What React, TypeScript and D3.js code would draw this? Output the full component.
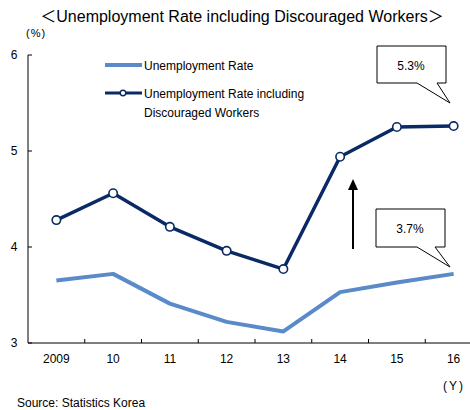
import React from "react";
import * as d3 from "d3";

const years = ["2009", "10", "11", "12", "13", "14", "15", "16"];
const unemploymentRate = [3.65, 3.72, 3.41, 3.22, 3.12, 3.53, 3.63, 3.72];
const inclDiscouraged = [4.28, 4.56, 4.21, 3.96, 3.77, 4.94, 5.25, 5.26];
const yTicks = [3, 4, 5, 6];

const FONT = "'Liberation Sans', Arial, sans-serif";
const CJK = "'Noto Sans CJK JP', sans-serif";

export default function App() {
  const W = 470, H = 410;
  const x = d3.scaleBand<string>().domain(years).range([28, 482]);
  const y = d3.scaleLinear().domain([3, 6]).range([343, 55]);
  const cx = (d: string) => (x(d) as number) + x.bandwidth() / 2;
  const line = d3.line<number>().x((_, i) => cx(years[i])).y((v) => y(v));

  return (
    <svg width={W} height={H} style={{ position: "absolute", left: 0, top: 0, background: "#fff" }} fontFamily={FONT}>
      <text x={242} y={22} textAnchor="middle" fontSize={16} fill="#000">
        <tspan fontFamily={CJK}>＜</tspan>
        <tspan>Unemployment Rate  including Discouraged Workers</tspan>
        <tspan fontFamily={CJK}>＞</tspan>
      </text>
      <text x={26} y={37} fontSize={11} fill="#000" letterSpacing={1}>(%)</text>
      {/* axes */}
      <line x1={28} x2={28} y1={55} y2={343} stroke="#000" strokeWidth={1} />
      <line x1={28} x2={470} y1={343} y2={343} stroke="#000" strokeWidth={1} />
      {yTicks.map((t) => (
        <g key={t}>
          <line x1={28} x2={32} y1={y(t)} y2={y(t)} stroke="#000" />
          <text x={14} y={y(t) + 4} textAnchor="middle" fontSize={12}>{t}</text>
        </g>
      ))}
      {years.map((yr, i) => (
        <g key={yr}>
          {i > 0 && <line x1={x(yr)} x2={x(yr)} y1={343} y2={339} stroke="#000" />}
          <text x={cx(yr)} y={363} textAnchor="middle" fontSize={12}>{yr}</text>
        </g>
      ))}
      {/* lines */}
      <path d={line(unemploymentRate) || ""} fill="none" stroke="#5b8ac9" strokeWidth={4} strokeLinejoin="round" />
      <path d={line(inclDiscouraged) || ""} fill="none" stroke="#0a2a66" strokeWidth={3.5} strokeLinejoin="round" />
      {inclDiscouraged.map((v, i) => (
        <circle key={i} cx={cx(years[i])} cy={y(v)} r={4.2} fill="#fff" stroke="#0a2a66" strokeWidth={1.6} />
      ))}
      {/* legend */}
      <line x1={105} x2={142} y1={65} y2={65} stroke="#5b8ac9" strokeWidth={4} />
      <text x={144} y={70} fontSize={12}>Unemployment Rate</text>
      <line x1={105} x2={142} y1={93} y2={93} stroke="#0a2a66" strokeWidth={3} />
      <circle cx={123} cy={93} r={2.8} fill="#fff" stroke="#0a2a66" strokeWidth={1.4} />
      <text x={144} y={98} fontSize={12}>Unemployment Rate including</text>
      <text x={144} y={117} fontSize={12}>Discouraged Workers</text>
      {/* callout 5.3 */}
      <path d="M377,46 H446 V83 H437 L450,103 L417,83 H377 Z" fill="#fff" stroke="#000" strokeWidth={1} />
      <text x={411} y={70} textAnchor="middle" fontSize={12}>5.3%</text>
      {/* callout 3.7 */}
      <path d="M376,209 H445 V247 H435 L450,267 L417,247 H376 Z" fill="#fff" stroke="#000" strokeWidth={1} />
      <text x={410} y={233} textAnchor="middle" fontSize={12}>3.7%</text>
      {/* arrow */}
      <line x1={353} x2={353} y1={249} y2={188} stroke="#000" strokeWidth={2} />
      <path d="M353,179 L348,190 L358,190 Z" fill="#000" />
      <text x={454} y={390} textAnchor="middle" fontSize={12} letterSpacing={2}>(Y)</text>
      <text x={17} y={407} fontSize={12}>Source: Statistics Korea</text>
    </svg>
  );
}
